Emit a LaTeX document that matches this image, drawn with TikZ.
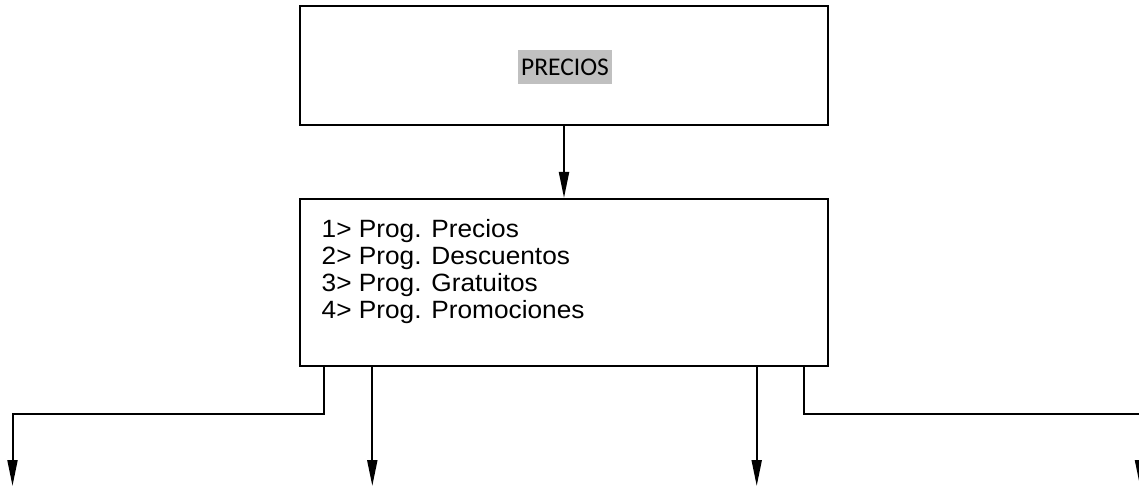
\documentclass[tikz,border=0pt]{standalone}
\usepackage{fontspec}
\setmainfont{Liberation Sans}
\newfontfamily\calib{Carlito}
\newfontfamily\arialx[FakeStretch=1.05]{Liberation Sans}
\usetikzlibrary{arrows.meta}
\definecolor{hl}{RGB}{192,192,192}
\begin{document}
\begin{tikzpicture}[x=1pt,y=-1pt,
  boxst/.style={draw=black, line width=2pt, minimum width=528pt, inner sep=0pt},
  conn/.style={line width=2pt, -{Triangle[length=26pt,width=10pt]}}]
\useasboundingbox (0,0) rectangle (1139,486);
\clip (0,0) rectangle (1139,486);
\node[boxst, minimum height=119pt] (top) at (564,65.5) {};
\node[boxst, minimum height=167pt] (menu) at (564,282.5) {};
\node[fill=hl, inner xsep=3pt, inner ysep=0pt, text height=26pt, text depth=8pt,
      anchor=base, font=\calib\fontsize{25.5}{30}\selectfont] (title) at (565,76) {PRECIOS};
\node[anchor=north west, align=left, inner sep=0pt,
      font={\arialx\fontsize{25}{26.8}\selectfont\lineskiplimit=-100pt}] (list) at (321.5,219.5)
  {1> Prog. Precios\\2> Prog. Descuentos\\3> Prog. Gratuitos\\4> Prog. Promociones};
\coordinate (l1) at (12.5,414);
\coordinate (e1) at (12.5,486);
\coordinate (e2) at (372.3,486);
\coordinate (e3) at (756.7,486);
\coordinate (r1) at (1140,414);
\coordinate (e4) at (1140,486);
\draw[conn] (top.south) -- (menu.north);
\draw[conn] ([xshift=-239.7pt]menu.south) |- (l1) -- (e1);
\draw[conn] ([xshift=-191.7pt]menu.south) -- (e2);
\draw[conn] ([xshift=192.7pt]menu.south) -- (e3);
\draw[conn] ([xshift=240.3pt]menu.south) |- (r1) -- (e4);
\end{tikzpicture}
\end{document}
